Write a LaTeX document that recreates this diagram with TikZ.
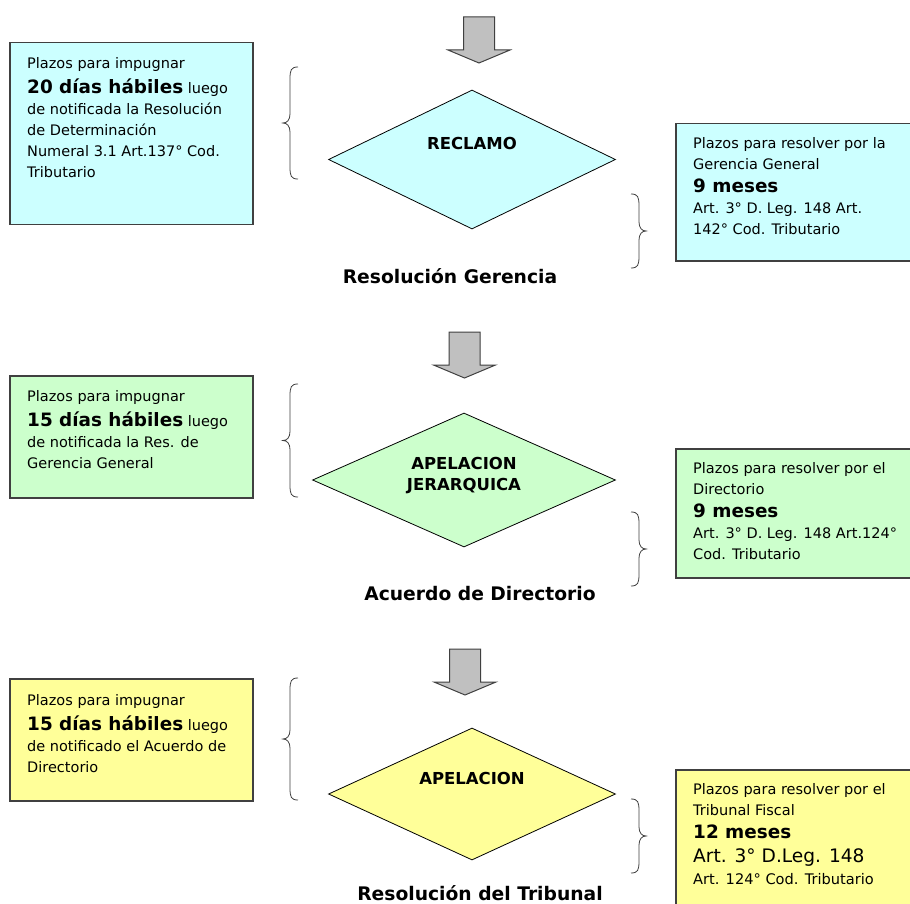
\documentclass[tikz,border=0pt]{standalone}
\usepackage{fontspec}
\setmainfont{DejaVu Sans}
\usetikzlibrary{shapes.geometric}
\definecolor{cyanbox}{HTML}{CCFFFF}
\definecolor{greenbox}{HTML}{CCFFCC}
\definecolor{yellowbox}{HTML}{FFFF99}
\definecolor{boxline}{HTML}{404040}
\definecolor{arrowfill}{HTML}{C0C0C0}
\newcommand{\regtext}{\fontsize{14.5}{21}\selectfont}
\newcommand{\bigbold}[1]{{\fontsize{18.4}{21}\selectfont\bfseries #1}}
\tikzset{
  infobox/.style={draw=boxline, line width=1.5pt, rectangle, inner sep=0pt},
  infotext/.style={anchor=north west, align=left, inner sep=0pt, font=\regtext},
  decision/.style={diamond, draw=black, line width=0.8pt, inner sep=0pt, minimum width=#1},
  dlabel/.style={font=\fontsize{16.5}{21}\selectfont\bfseries, align=center, inner sep=0pt},
  outlabel/.style={font=\fontsize{18.7}{21}\selectfont\bfseries, inner sep=0pt},
  blockarrow/.style={draw=boxline, line width=1pt, fill=arrowfill, line join=miter},
  bracepath/.style={draw=black!75, line width=0.8pt}
}
\newcommand{\leftbrace}[3]{% x right, y top, y bottom
  \draw[bracepath] (#1,#2) .. controls (#1-7,#2) and (#1-8,#2+3) .. (#1-8,#2+12)
    -- (#1-8,{(#2+#3)/2-9}) .. controls (#1-8,{(#2+#3)/2-3}) and (#1-11,{(#2+#3)/2}) .. (#1-15,{(#2+#3)/2})
    .. controls (#1-11,{(#2+#3)/2}) and (#1-8,{(#2+#3)/2+3}) .. (#1-8,{(#2+#3)/2+9})
    -- (#1-8,#3-12) .. controls (#1-8,#3-3) and (#1-7,#3) .. (#1,#3);}
\newcommand{\rightbrace}[3]{% x left, y top, y bottom
  \draw[bracepath] (#1,#2) .. controls (#1+7,#2) and (#1+8,#2+3) .. (#1+8,#2+12)
    -- (#1+8,{(#2+#3)/2-9}) .. controls (#1+8,{(#2+#3)/2-3}) and (#1+11,{(#2+#3)/2}) .. (#1+15,{(#2+#3)/2})
    .. controls (#1+11,{(#2+#3)/2}) and (#1+8,{(#2+#3)/2+3}) .. (#1+8,{(#2+#3)/2+9})
    -- (#1+8,#3-12) .. controls (#1+8,#3-3) and (#1+7,#3) .. (#1,#3);}
\newcommand{\downarrowshape}[3]{% center x, top y, shaft bottom y
  \draw[blockarrow] (#1-15.5,#2) -- (#1+15.5,#2) -- (#1+15.5,#3) -- (#1+31,#3) -- (#1,#3+13)
    -- (#1-31,#3) -- (#1-15.5,#3) -- cycle;}
\begin{document}
\begin{tikzpicture}[x=1pt,y=-1pt]
\useasboundingbox (0,0) rectangle (910,904);
\clip (0,0) rectangle (910,904);
\fill[white] (0,0) rectangle (910,904);

% ---------- Stage 1 ----------
\downarrowshape{479}{17}{50}
\node[infobox, fill=cyanbox, minimum width=243pt, minimum height=182pt, anchor=north west] (b1) at (9,42) {};
\node[infotext] (t1) at (27,57) {Plazos para impugnar\\[4pt]
\bigbold{20 días hábiles} luego\\
de notificada la Resolución\\
de Determinación\\
Numeral 3.1 Art.137° Cod.\\
Tributario};
\leftbrace{298}{67}{179}
\node[decision=287pt, minimum height=139pt, fill=cyanbox] (d1) at (472,159.5) {};
\node[dlabel] (l1) at (472,143) {RECLAMO};
\rightbrace{631}{194}{268}
\node[outlabel] (o1) at (450,276) {Resolución Gerencia};
\node[infobox, fill=cyanbox, minimum width=250pt, minimum height=137pt, anchor=north west] (r1) at (675,123) {};
\node[infotext] (rt1) at (693,137) {Plazos para resolver por la\\
Gerencia General\\[2pt]
\bigbold{9 meses}\\
Art. 3° D. Leg. 148 Art.\\
142° Cod. Tributario};

% ---------- Stage 2 ----------
\downarrowshape{464.5}{332}{365}
\node[infobox, fill=greenbox, minimum width=243pt, minimum height=122pt, anchor=north west] (b2) at (9,375) {};
\node[infotext] (t2) at (27,390) {Plazos para impugnar\\[4pt]
\bigbold{15 días hábiles} luego\\
de notificada la Res. de\\
Gerencia General};
\leftbrace{298}{384}{497}
\node[decision=303pt, minimum height=134pt, fill=greenbox] (d2) at (464,480) {};
\node[dlabel] (l2) at (464,475.5) {APELACION\\JERARQUICA};
\rightbrace{631}{512}{586}
\node[outlabel] (o2) at (480,594) {Acuerdo de Directorio};
\node[infobox, fill=greenbox, minimum width=250pt, minimum height=129pt, anchor=north west] (r2) at (675,448) {};
\node[infotext] (rt2) at (693,462) {Plazos para resolver por el\\
Directorio\\[2pt]
\bigbold{9 meses}\\
Art. 3° D. Leg. 148 Art.124°\\
Cod. Tributario};

% ---------- Stage 3 ----------
\downarrowshape{465}{649}{682}
\node[infobox, fill=yellowbox, minimum width=243pt, minimum height=122pt, anchor=north west] (b3) at (9,678) {};
\node[infotext] (t3) at (27,694) {Plazos para impugnar\\[4pt]
\bigbold{15 días hábiles} luego\\
de notificado el Acuerdo de\\
Directorio};
\leftbrace{298}{678}{800}
\node[decision=287pt, minimum height=132pt, fill=yellowbox] (d3) at (472,794) {};
\node[dlabel] (l3) at (472,778) {APELACION};
\rightbrace{631}{799}{873}
\node[outlabel] (o3) at (480,893) {Resolución del Tribunal};
\node[infobox, fill=yellowbox, minimum width=250pt, minimum height=160pt, anchor=north west] (r3) at (675,769) {};
\node[infotext] (rt3) at (693,783) {Plazos para resolver por el\\
Tribunal Fiscal\\[2pt]
\bigbold{12 meses}\\[3pt]
{\fontsize{18.6}{24}\selectfont Art. 3° D.Leg. 148}\\[1pt]
{\fontsize{14.6}{19}\selectfont Art. 124° Cod. Tributario}};
\end{tikzpicture}
\end{document}
